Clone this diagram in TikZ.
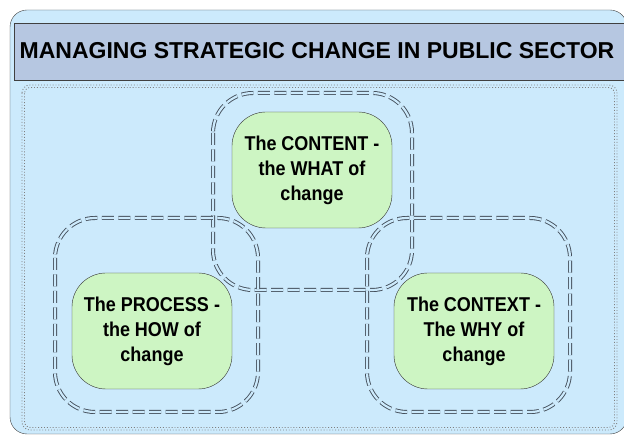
\documentclass[tikz,border=0pt]{standalone}
\usepackage{fontspec}
\setmainfont{Liberation Sans}
\newfontfamily\narrowsans[FakeStretch=0.9]{Liberation Sans}

\definecolor{paneblue}{HTML}{CCEAFC}
\definecolor{bandblue}{HTML}{B6C7E1}
\definecolor{topicgreen}{HTML}{CDF5C3}
\definecolor{ringgray}{HTML}{45505C}

\tikzset{
  topic/.style={draw=black!80, fill=topicgreen, rounded corners=34pt,
    minimum width=160pt, minimum height=116pt, align=center,
    font=\narrowsans\bfseries\fontsize{20}{25}\selectfont},
  ring/.style={draw=ringgray, double=paneblue, double distance=2.2pt,
    line width=0.9pt, dash pattern=on 12pt off 4.5pt, rounded corners=40pt}
}

\begin{document}
\begin{tikzpicture}[x=1pt, y=-1pt]
\useasboundingbox (0,0) rectangle (624,435);

% outer panel and title band
\draw[black!75, fill=paneblue, rounded corners=17pt] (10,10) rectangle (627,434);
\draw[black!75, fill=bandblue] (14,23) rectangle (640,80);
\node[font=\bfseries\fontsize{23}{26}\selectfont] (title) at (317,51)
  {MANAGING STRATEGIC CHANGE IN PUBLIC SECTOR};

% dotted frame, drawn twice
\draw[gray, dotted, line width=0.9pt, rounded corners=8pt] (22,85) rectangle (617,430);
\draw[gray, dotted, line width=0.9pt, rounded corners=6pt] (24.5,87.5) rectangle (614.5,427.5);

% the three dashed rings, they overlap
\draw[ring] (213,93) rectangle (412,290);
\draw[ring] (55,218) rectangle (258,412);
\draw[ring] (367,218) rectangle (570,412);

% what, how and why
\node[topic] (what) at (312,170) {The CONTENT -\\the WHAT of\\change};
\node[topic] (how) at (152,331) {The PROCESS -\\the HOW of\\change};
\node[topic] (why) at (474,331) {The CONTEXT -\\The WHY of\\change};

\end{tikzpicture}
\end{document}
